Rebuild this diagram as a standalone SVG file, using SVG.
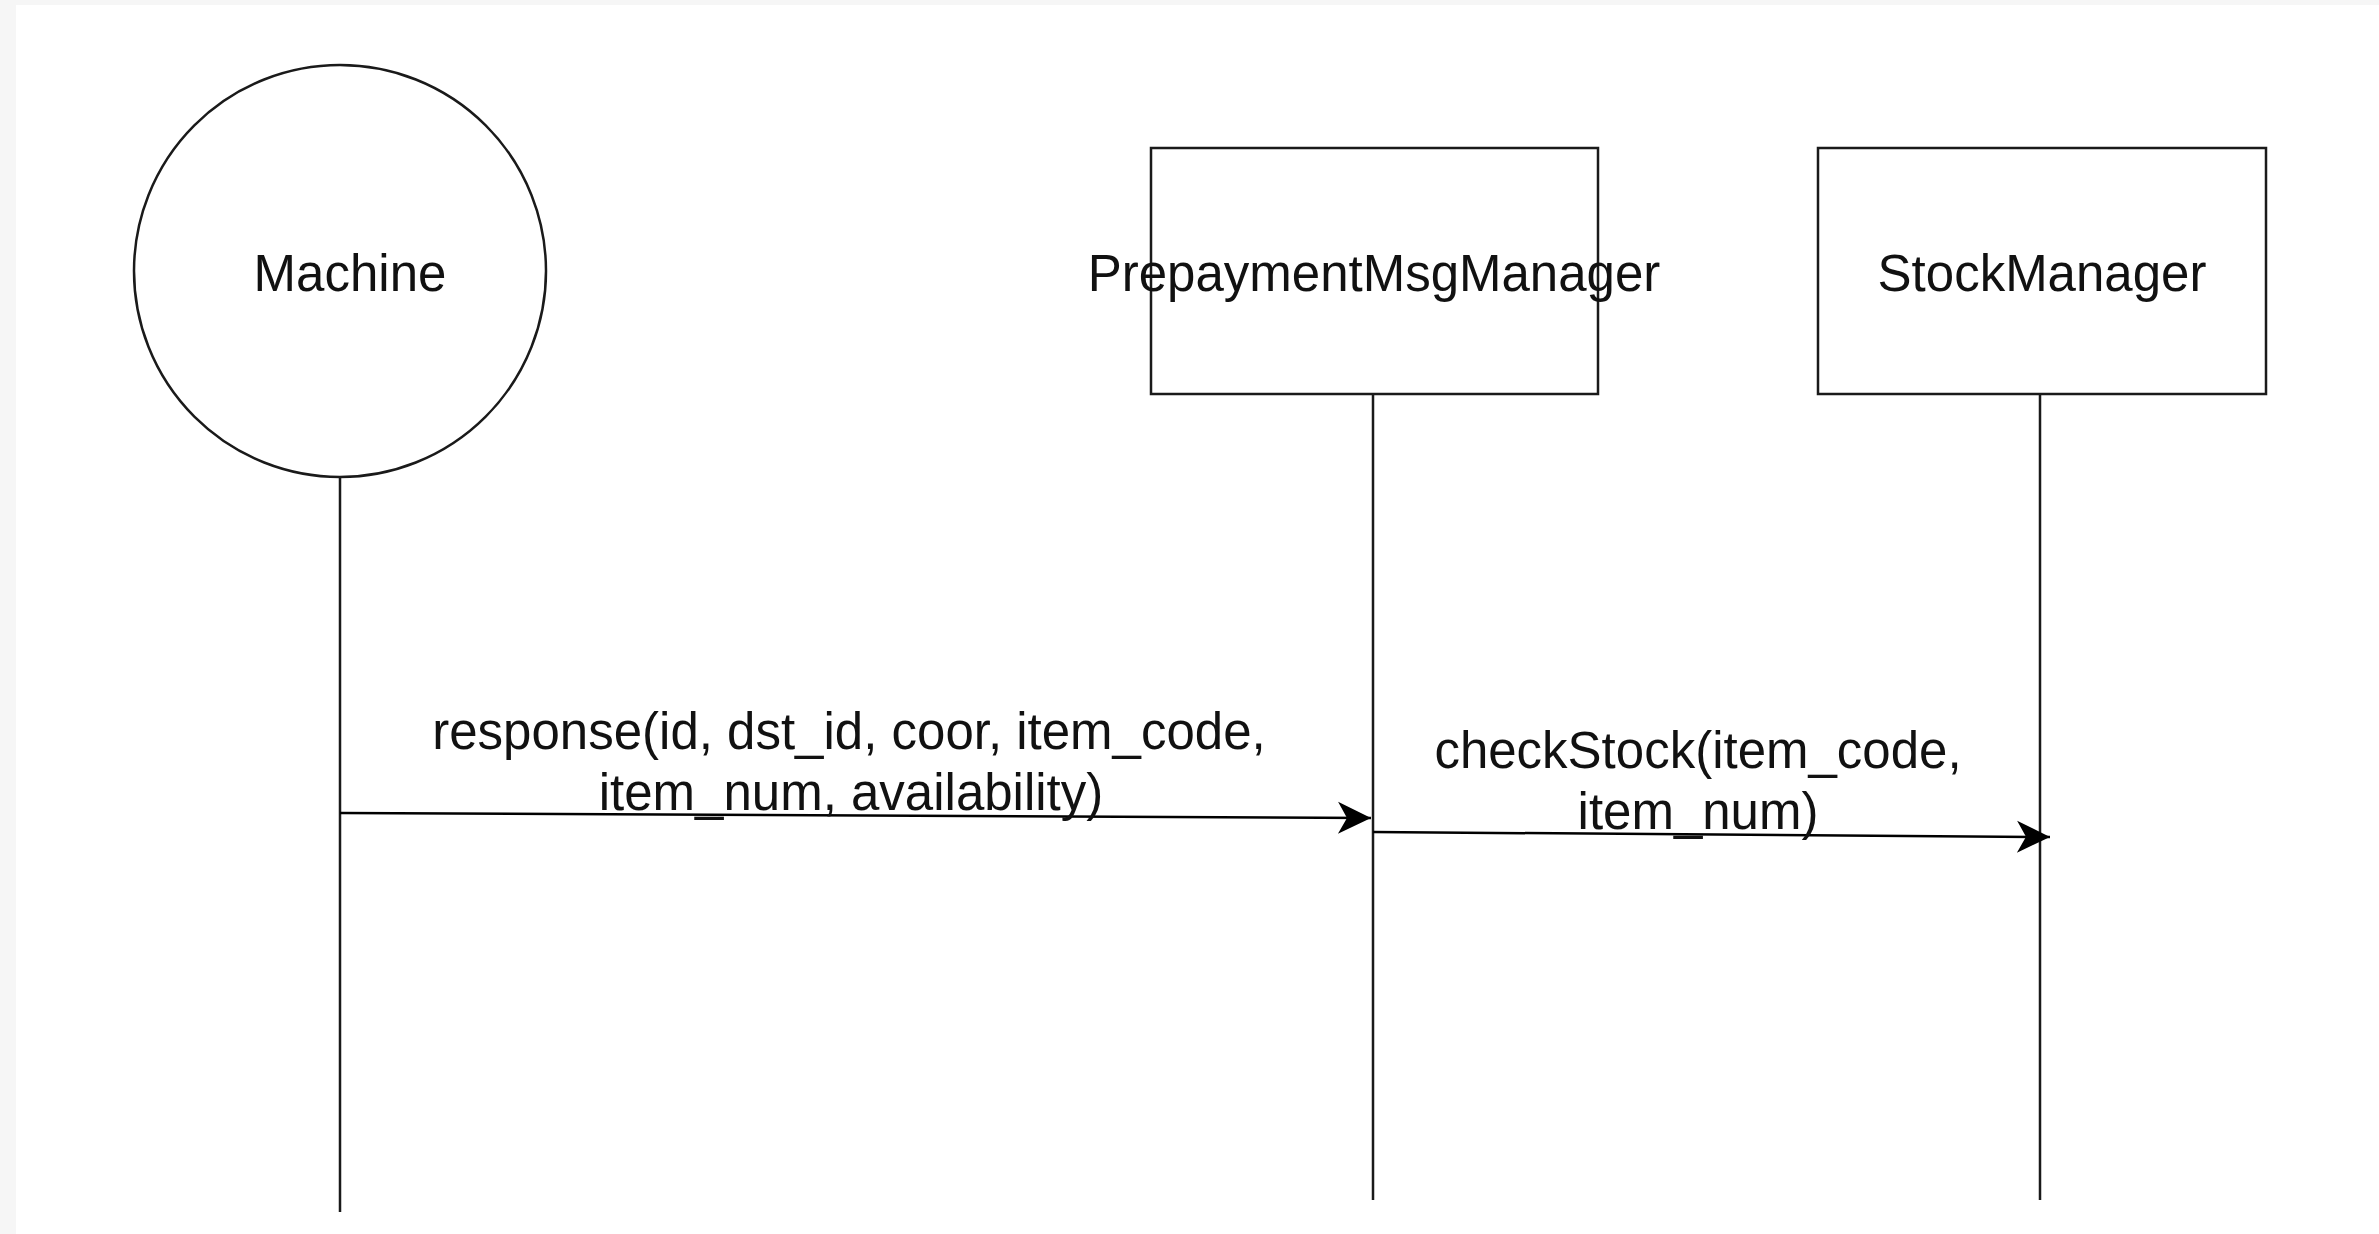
<svg xmlns="http://www.w3.org/2000/svg" width="2379" height="1234" viewBox="0 0 2379 1234">
<style>
.shape{fill:#fff;stroke:#1a1a1a;stroke-width:2.5}
.life{stroke:#1a1a1a;stroke-width:2.5;fill:none}
.msg{stroke:#000;stroke-width:2.5;fill:none;marker-end:url(#arr)}
.lbl{font-family:"Liberation Sans",Arial,sans-serif;font-size:51px;fill:#111;text-anchor:middle}
</style>
<defs>
<marker id="arr" markerUnits="userSpaceOnUse" markerWidth="40" markerHeight="40" viewBox="-36 -20 40 40" refX="0" refY="0" orient="auto">
<path d="M0,0 L-33,-16 L-24,0 L-33,16 Z" fill="#000"/>
</marker>
</defs>
<rect x="0" y="0" width="2379" height="1234" fill="#f6f6f6"/>
<rect x="16" y="5" width="2363" height="1229" fill="#fff"/>
<g id="connectors">
<line class="life" x1="340" y1="477" x2="340" y2="1212"/>
<line class="life" x1="1373" y1="394" x2="1373" y2="1200"/>
<line class="life" x1="2040" y1="394" x2="2040" y2="1200"/>
<line class="msg" x1="340" y1="813" x2="1371" y2="818"/>
<line class="msg" x1="1373" y1="832" x2="2050" y2="837"/>
</g>
<g id="machine">
<circle class="shape" cx="340" cy="271" r="206"/>
<text class="lbl" x="350" y="291">Machine</text>
</g>
<g id="prepaymentMsgManager">
<rect class="shape" x="1151" y="148" width="447" height="246"/>
<text class="lbl" x="1374" y="291">PrepaymentMsgManager</text>
</g>
<g id="stockManager">
<rect class="shape" x="1818" y="148" width="448" height="246"/>
<text class="lbl" x="2042" y="291">StockManager</text>
</g>
<g id="labels">
<text class="lbl" x="849" y="749">response(id, dst_id, coor, item_code,</text>
<text class="lbl" x="851" y="810">item_num, availability)</text>
<text class="lbl" x="1698" y="768">checkStock(item_code,</text>
<text class="lbl" x="1698" y="829">item_num)</text>
</g>
</svg>
